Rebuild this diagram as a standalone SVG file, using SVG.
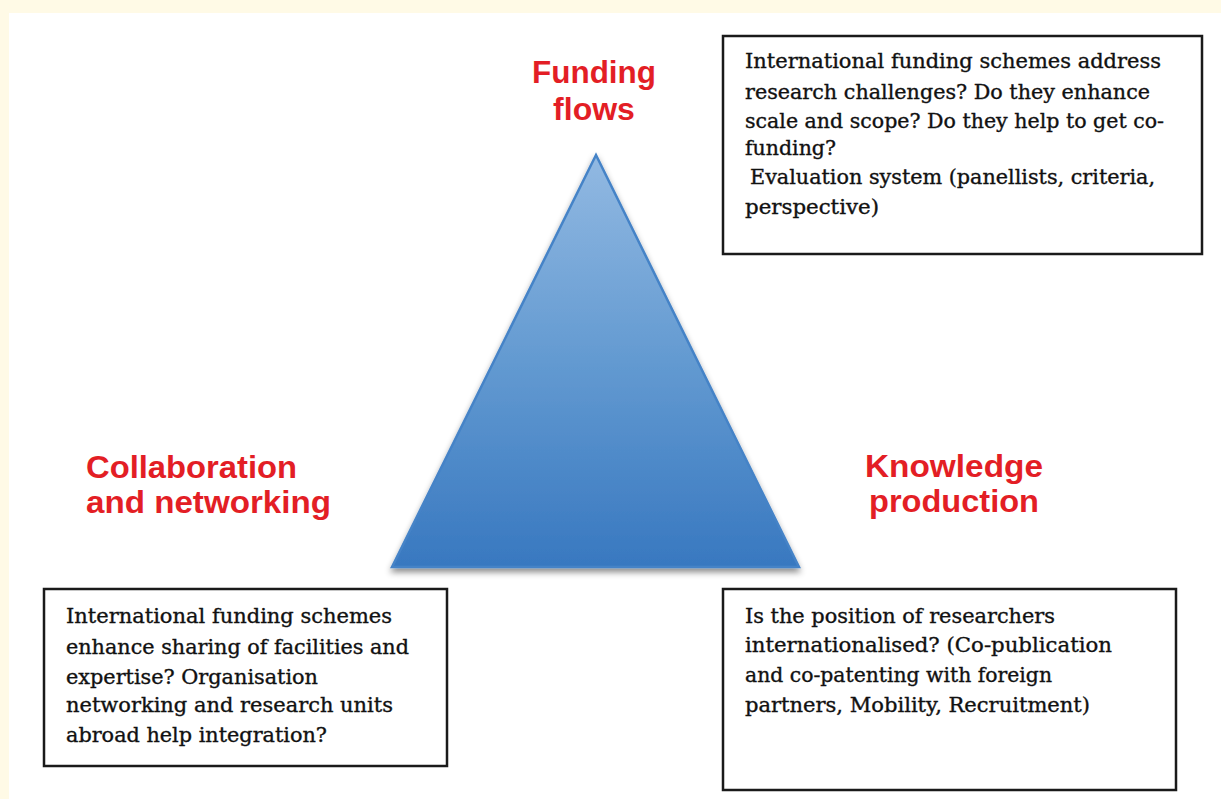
<svg xmlns="http://www.w3.org/2000/svg" width="1221" height="799" viewBox="0 0 1221 799">
  <defs>
    <linearGradient id="triFill" x1="0" y1="0" x2="0" y2="1">
      <stop offset="0" stop-color="#92b9e2"/>
      <stop offset="0.5" stop-color="#639ad1"/>
      <stop offset="1" stop-color="#3878c0"/>
    </linearGradient>
    <filter id="shadow" x="-10%" y="-10%" width="120%" height="125%">
      <feDropShadow dx="0" dy="4" stdDeviation="3" flood-color="#000" flood-opacity="0.45"/>
    </filter>
    <style>
      .box { fill: #ffffff; stroke: #1a1a1a; stroke-width: 2.5; }
      .body { font-family: "DejaVu Serif", "Liberation Serif", serif; font-size: 19.5px; fill: #111111; stroke: #111111; stroke-width: 0.35; }
      .label { font-family: "Liberation Sans", Arial, sans-serif; font-weight: bold; font-size: 32px; fill: #e31e25; }
    </style>
  </defs>

  <rect x="0" y="0" width="1221" height="799" fill="#fffae6"/>
  <rect x="9" y="13" width="1212" height="786" fill="#ffffff"/>

  <g id="triangle">
    <polygon points="596,155 392,567 799,567" fill="url(#triFill)" stroke="#4583c7" stroke-width="2.5" stroke-linejoin="miter" filter="url(#shadow)"/>
  </g>

  <g id="connectors"></g>

  <g id="label-funding">
    <text class="label" x="594" y="83" text-anchor="middle" textLength="124" lengthAdjust="spacingAndGlyphs">Funding</text>
    <text class="label" x="594" y="120" text-anchor="middle">flows</text>
  </g>

  <g id="label-collaboration">
    <text class="label" x="86" y="478" textLength="211" lengthAdjust="spacingAndGlyphs">Collaboration</text>
    <text class="label" x="86" y="513" textLength="245" lengthAdjust="spacingAndGlyphs">and networking</text>
  </g>

  <g id="label-knowledge">
    <text class="label" x="954" y="477" text-anchor="middle" textLength="178" lengthAdjust="spacingAndGlyphs">Knowledge</text>
    <text class="label" x="954" y="512" text-anchor="middle" textLength="170" lengthAdjust="spacingAndGlyphs">production</text>
  </g>

  <g id="box-funding">
    <rect class="box" x="723" y="36" width="479" height="218"/>
    <text class="body" x="745" y="68" textLength="416" lengthAdjust="spacingAndGlyphs">International funding schemes address</text>
    <text class="body" x="745" y="99" textLength="405" lengthAdjust="spacingAndGlyphs">research challenges? Do they enhance</text>
    <text class="body" x="745" y="128" textLength="419" lengthAdjust="spacingAndGlyphs">scale and scope? Do they help to get co-</text>
    <text class="body" x="745" y="155" textLength="91" lengthAdjust="spacingAndGlyphs">funding?</text>
    <text class="body" x="750" y="184" textLength="405" lengthAdjust="spacingAndGlyphs">Evaluation system (panellists, criteria,</text>
    <text class="body" x="745" y="214" textLength="134" lengthAdjust="spacingAndGlyphs">perspective)</text>
  </g>

  <g id="box-collaboration">
    <rect class="box" x="44" y="589" width="403" height="177"/>
    <text class="body" x="66" y="623" textLength="326" lengthAdjust="spacingAndGlyphs">International funding schemes</text>
    <text class="body" x="66" y="654" textLength="343" lengthAdjust="spacingAndGlyphs">enhance sharing of facilities and</text>
    <text class="body" x="66" y="684" textLength="252" lengthAdjust="spacingAndGlyphs">expertise? Organisation</text>
    <text class="body" x="66" y="712" textLength="327" lengthAdjust="spacingAndGlyphs">networking and research units</text>
    <text class="body" x="66" y="742" textLength="261" lengthAdjust="spacingAndGlyphs">abroad help integration?</text>
  </g>

  <g id="box-knowledge">
    <rect class="box" x="723" y="589" width="453" height="201"/>
    <text class="body" x="745" y="623" textLength="310" lengthAdjust="spacingAndGlyphs">Is the position of researchers</text>
    <text class="body" x="745" y="652" textLength="367" lengthAdjust="spacingAndGlyphs">internationalised? (Co-publication</text>
    <text class="body" x="745" y="682" textLength="307" lengthAdjust="spacingAndGlyphs">and co-patenting with foreign</text>
    <text class="body" x="745" y="712" textLength="345" lengthAdjust="spacingAndGlyphs">partners, Mobility, Recruitment)</text>
  </g>
</svg>
